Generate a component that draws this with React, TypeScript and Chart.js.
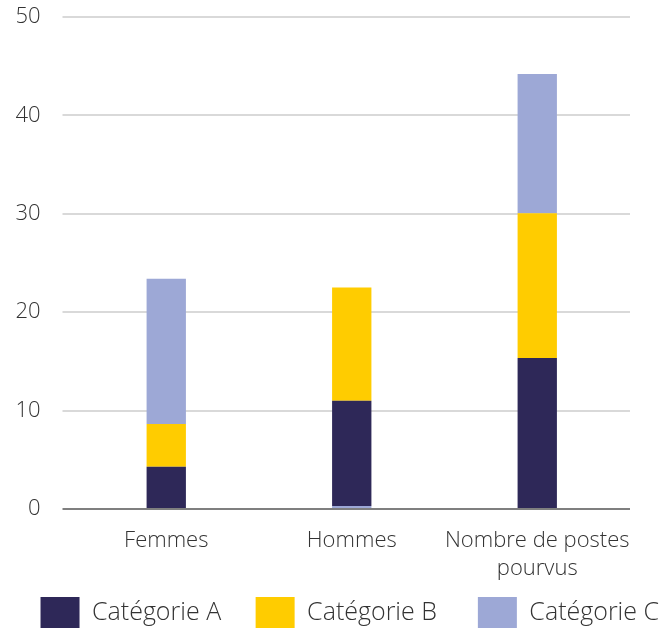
import React, { useEffect, useRef } from "react";
import { Chart, registerables } from "chart.js";

Chart.register(...registerables);

const categories: (string | string[])[] = ["Femmes", "Hommes", ["Nombre de postes", "pourvus"]];
const seriesNames = ["Catégorie A", "Catégorie B", "Catégorie C"];
const valuesA = [4.3, 10.7, 15.35];
const valuesB = [4.35, 11.5, 14.7];
const valuesC = [14.75, 0, 14.15];
const valuesCBase = [0, 0.3, 0];
const yTicks = [0, 10, 20, 30, 40, 50];

const colA = "#2E2858";
const colB = "#FFCC00";
const colC = "#9DA8D6";
const textCol = "#333333";
const FONT = "'Open Sans', sans-serif";
const legendSpacing = ["     ", "      ", ""];

export default function App() {
  const ref = useRef<HTMLCanvasElement | null>(null);
  useEffect(() => {
    document.body.style.margin = "0";
    const common = { barPercentage: 0.212, categoryPercentage: 1, borderWidth: 0 };
    const chart = new Chart(ref.current!, {
      type: "bar",
      data: {
        labels: categories,
        datasets: [
          { label: "_base", data: valuesCBase, backgroundColor: colC, ...common },
          { label: seriesNames[0], data: valuesA, backgroundColor: colA, ...common },
          { label: seriesNames[1], data: valuesB, backgroundColor: colB, ...common },
          { label: seriesNames[2], data: valuesC, backgroundColor: colC, ...common },
        ],
      },
      options: {
        animation: false,
        responsive: false,
        layout: { padding: { top: 17, left: 0, right: 0, bottom: 0 } },
        plugins: {
          tooltip: { enabled: false },
          legend: {
            position: "bottom",
            align: "end",
            maxHeight: 35,
            labels: {
              filter: (item: any) => item.text !== "_base",
              generateLabels: (ch: any) => {
                const items = Chart.defaults.plugins.legend.labels.generateLabels(ch);
                return items.map((it: any) => {
                  const idx = seriesNames.indexOf(it.text);
                  return idx >= 0 ? { ...it, text: it.text + legendSpacing[idx] } : it;
                });
              },
              boxWidth: 39,
              boxHeight: 31,
              padding: 2,
              color: textCol,
              font: { family: FONT, size: 25, weight: "300" },
            },
          },
        },
        scales: {
          x: {
            stacked: true,
            grid: { display: false },
            border: { display: false },
            ticks: { color: textCol, font: { family: FONT, size: 22, weight: "300", lineHeight: 1.27 }, padding: 10, maxRotation: 0, autoSkip: false },
            afterFit: (s: any) => { s.height = 86; s.paddingLeft = 0; s.paddingRight = 0; },
          },
          y: {
            stacked: true,
            min: 0,
            max: 50,
            afterBuildTicks: (s: any) => { s.ticks = yTicks.map((v) => ({ value: v })); },
            afterFit: (s: any) => { s.width = 73.5; s.paddingTop = 0; s.paddingBottom = 0; },
            border: { display: false },
            grid: {
              color: (c: any) => (c.tick && c.tick.value === 0 ? "#7f7f7f" : "#d9d9d9"),
              lineWidth: 2,
              drawTicks: true,
              tickLength: 11,
            },
            ticks: { color: textCol, font: { family: FONT, size: 22, weight: "300" }, padding: 22 },
          },
          yRight: {
            position: "right",
            display: true,
            grid: { display: false, drawTicks: false },
            border: { display: false },
            ticks: { display: false },
            afterFit: (s: any) => { s.width = 31; s.paddingTop = 0; s.paddingBottom = 0; },
          },
        },
      },
    });
    return () => chart.destroy();
  }, []);
  return <canvas ref={ref} width={661} height={630} style={{ display: "block" }} />;
}
